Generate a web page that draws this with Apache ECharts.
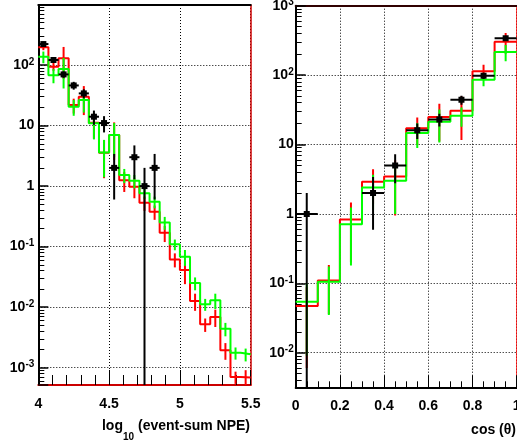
<!DOCTYPE html>
<html><head><meta charset="utf-8">
<script src="https://cdn.jsdelivr.net/npm/echarts@6/dist/echarts.min.js"></script>
<style>html,body{margin:0;padding:0;background:#fff}#c{width:517px;height:441px}</style>
</head><body><div id="c"></div>
<script>
// ---------- Left panel: log10(event-sum NPE), 21 bins from 4 to 5.5 ----------
const npeRange = [4, 5.5];
const npeBinCount = 21;
const npeRed      = [196, 94, 129, 21.8, 29.9, 11.1, 3.55, 7.0, 1.25, 0.98, 0.53, 0.377, 0.169, 0.0614, 0.041, 0.0127, 0.0052, 0.0069, 0.00195, 0.00070, 0.00069];
const npeRedErr   = [20, 14, 70, 6, 15, 5, 2.2, 4.3, 0.45, 0.35, 0.14, 0.1, 0.05, 0.016, 0.017, 0.004, 0.0013, 0.0022, 0.0006, 0.00016, 0.00022];
const npeGreen    = [137, 68, 86, 20.5, 26.4, 10.9, 3.6, 7.0, 1.52, 1.22, 0.76, 0.55, 0.25, 0.109, 0.068, 0.025, 0.0112, 0.013, 0.0044, 0.00176, 0.00167];
const npeGreenErr = [30, 18, 45, 6, 10, 5, 2.2, 4, 0.4, 0.3, 0.15, 0.12, 0.06, 0.022, 0.02, 0.006, 0.0025, 0.0037, 0.0011, 0.0004, 0.0004];
const npeData     = [222, 121, 70, 46, 34, 14, 11, 2, null, 3, 1, 2, null, null, null, null, null, null, null, null, null];
const npeDataErr  = [15, 11, 8.4, 6.8, 5.8, 3.7, 3.3, 1.4, null, 1.7, 1, 1.4, null, null, null, null, null, null, null, null, null];
const npeYRange = [0.000518, 981];
const npeXTicks = {interval: 0.5, minor: 5};

// ---------- Right panel: cos(theta), 10 bins from 0 to 1 ----------
const cosRange = [0, 1];
const cosBinCount = 10;
const cosRed      = [0.047, 0.11, 0.83, 2.9, 3.45, 17.2, 24.8, 30.6, 114, 303];
const cosRedErr   = [0.041, 0.074, 0.63, 1.5, 2.5, 7.3, 13.8, 19, 27, 100];
const cosGreen    = [0.054, 0.105, 0.71, 2.4, 3.0, 14.6, 21.3, 26, 86, 215];
const cosGreenErr = [0.045, 0.07, 0.53, 1.25, 2.0, 5.7, 10.6, 8, 17, 57];
const cosData     = [1, null, null, 2, 5, 16, 23, 44, 98, 339];
const cosDataErr  = [1, null, null, 1.41, 2.24, 4, 4.8, 6.6, 9.9, 18.4];
const cosYRange = [0.00317, 1000];
const cosXTicks = {interval: 0.2, minor: 4};

const minorMantissas = [2, 3, 4, 5, 6, 7, 8, 9];
const decades = [-4, -3, -2, -1, 0, 1, 2, 3];

const RED = '#ff0000', GREEN = '#00ff00', BLACK = '#000000';
const FONT = 'Liberation Sans';

function edges(range, n) {
  const w = (range[1] - range[0]) / n, e = [];
  for (let i = 0; i <= n; i++) e.push(range[0] + i * w);
  return e;
}
function stepData(range, n, vals) {
  const e = edges(range, n), d = [];
  vals.forEach((v, i) => d.push([e[i], v]));
  d.push([e[n], vals[n - 1]]);
  return d;
}
function barData(range, n, vals, errs, ymin) {
  const e = edges(range, n), d = [];
  vals.forEach((v, i) => {
    if (v == null) return;
    const c = (e[i] + e[i + 1]) / 2;
    d.push([c, Math.max(v - errs[i], ymin), v + errs[i], v, (e[i + 1] - e[i]) / 2]);
  });
  return d;
}
function minorValues(yr) {
  const d = [];
  decades.forEach(k => minorMantissas.forEach(m => {
    const v = m * Math.pow(10, k);
    if (v > yr[0] && v < yr[1]) d.push(v);
  }));
  return d;
}

function stepSeries(xi, yi, data, color, z) {
  return {type: 'line', xAxisIndex: xi, yAxisIndex: yi, step: 'end', data, showSymbol: false,
    symbol: 'none', lineStyle: {color, width: 2}, z, silent: true, clip: true};
}
function errSeries(xi, yi, data, color, z) {
  return {type: 'custom', xAxisIndex: xi, yAxisIndex: yi, z, silent: true, clip: true,
    data, encode: {x: 0, y: [1, 2]},
    renderItem(params, api) {
      const x = api.value(0);
      const a = api.coord([x, api.value(1)]);
      const b = api.coord([x, api.value(2)]);
      return {type: 'line', shape: {x1: a[0], y1: a[1], x2: b[0], y2: b[1]},
        style: {stroke: color, lineWidth: 2}};
    }};
}
function dataSeries(xi, yi, data, z) {
  return {type: 'custom', xAxisIndex: xi, yAxisIndex: yi, z, silent: true, clip: true,
    data, encode: {x: 0, y: [1, 2]},
    renderItem(params, api) {
      const x = api.value(0), v = api.value(3), hw = api.value(4);
      const lo = api.coord([x, api.value(1)]);
      const hi = api.coord([x, api.value(2)]);
      const l = api.coord([x - hw, v]), r = api.coord([x + hw, v]);
      return {type: 'group', children: [
        {type: 'line', shape: {x1: lo[0], y1: lo[1], x2: hi[0], y2: hi[1]}, style: {stroke: BLACK, lineWidth: 2}},
        {type: 'line', shape: {x1: l[0], y1: l[1], x2: r[0], y2: r[1]}, style: {stroke: BLACK, lineWidth: 2}},
        {type: 'rect', shape: {x: l[0] + (r[0] - l[0]) / 2 - 3, y: l[1] - 3, width: 6, height: 6}, style: {fill: BLACK}}
      ]};
    }};
}

function powLabel(v) {
  const l = Math.log10(v), e = Math.round(l);
  if (Math.abs(l - e) > 1e-6) return '';
  if (e === 0) return '{b|1}';
  if (e === 1) return '{b|10}';
  return '{b|10}{s|' + e + '}';
}
const richPow = {
  b: {fontSize: 14, fontWeight: 'bold', fontFamily: FONT, color: BLACK, lineHeight: 16},
  s: {fontSize: 10, fontWeight: 'bold', fontFamily: FONT, color: BLACK, lineHeight: 8, verticalAlign: 'top'}
};
const dotted = {color: BLACK, width: 1, type: [1, 2]};

function xAxisMain(grid, range, t, lineColor, tickLen, minorLen) {
  return {type: 'value', gridIndex: grid, min: range[0], max: range[1], interval: t.interval,
    axisLine: {show: true, onZero: false, lineStyle: {color: lineColor, width: 2}},
    axisTick: {show: true, inside: true, length: tickLen, lineStyle: {color: BLACK, width: 1}},
    minorTick: {show: true, splitNumber: t.minor, length: minorLen, lineStyle: {color: BLACK, width: 1}},
    axisLabel: {show: true, margin: 12, fontSize: 14, fontWeight: 'bold', fontFamily: FONT, color: BLACK,
      showMinLabel: true, showMaxLabel: true},
    splitLine: {show: true, lineStyle: dotted}};
}
function yAxisMain(grid, yr, margin) {
  return {type: 'log', logBase: 10, gridIndex: grid, min: yr[0], max: yr[1],
    axisLine: {show: true, onZero: false, lineStyle: {color: BLACK, width: 2}},
    axisTick: {show: true, inside: true, length: 10, lineStyle: {color: BLACK, width: 1.5}},
    minorTick: {show: false},
    axisLabel: {show: true, margin, formatter: powLabel, rich: richPow, showMinLabel: true, showMaxLabel: true},
    splitLine: {show: true, lineStyle: dotted}};
}
function yAxisMinor(grid, yr) {
  return {type: 'log', logBase: 10, gridIndex: grid, min: yr[0], max: yr[1], position: 'left',
    axisLine: {show: false, onZero: false},
    axisTick: {show: true, inside: true, length: 6, customValues: minorValues(yr), lineStyle: {color: BLACK, width: 1}},
    minorTick: {show: false}, axisLabel: {show: false}, splitLine: {show: false}};
}
function frameX(grid, range, color) {
  return {type: 'value', gridIndex: grid, position: 'top', min: range[0], max: range[1],
    axisLine: {show: true, onZero: false, lineStyle: {color, width: 2}},
    axisTick: {show: false}, axisLabel: {show: false}, splitLine: {show: false}};
}
function frameY(grid, color) {
  return {type: 'value', gridIndex: grid, position: 'right', min: 0, max: 1,
    axisLine: {show: true, onZero: false, lineStyle: {color, width: 1.5}},
    axisTick: {show: false}, axisLabel: {show: false}, splitLine: {show: false}};
}

// measure title pieces so the subscript can sit below the baseline
const mctx = document.createElement('canvas').getContext('2d');
function tw(txt, size) { mctx.font = 'bold ' + size + 'px "' + FONT + '"'; return mctx.measureText(txt).width; }
const tA = 'log', tSub = '10', tB = ' (event-sum NPE)';
const titleRight = 250, titleY = 426;
const wB = tw(tB, 14), wSub = tw(tSub, 10), wA = tw(tA, 14);
const xB = titleRight - wB, xSub = xB - wSub, xA = xSub - wA;
const tStyle = {fontSize: 14, fontWeight: 'bold', fontFamily: FONT, fill: BLACK, verticalAlign: 'middle', align: 'left'};

const chart = echarts.init(document.getElementById('c'), null, {renderer: 'canvas'});
chart.setOption({
  animation: false,
  backgroundColor: '#ffffff',
  grid: [
    {left: 38.3, top: 5, width: 212.4, height: 380, containLabel: false, outerBoundsMode: 'none'},
    {left: 295.7, top: 5.7, width: 221, height: 381.6, containLabel: false, outerBoundsMode: 'none'}
  ],
  xAxis: [
    xAxisMain(0, npeRange, npeXTicks, '#cc0000', 15, 10),
    xAxisMain(1, cosRange, cosXTicks, BLACK, 12, 6),
    frameX(0, npeRange, BLACK),
    frameX(1, cosRange, '#300000')
  ],
  yAxis: [
    yAxisMain(0, npeYRange, 4),
    yAxisMain(1, cosYRange, 2),
    frameY(0, '#cc0000'),
    frameY(1, RED),
    yAxisMinor(0, npeYRange),
    yAxisMinor(1, cosYRange)
  ],
  series: [
    stepSeries(0, 0, stepData(npeRange, npeBinCount, npeRed), RED, 2),
    errSeries(0, 0, barData(npeRange, npeBinCount, npeRed, npeRedErr, npeYRange[0]), RED, 2),
    stepSeries(0, 0, stepData(npeRange, npeBinCount, npeGreen), GREEN, 3),
    errSeries(0, 0, barData(npeRange, npeBinCount, npeGreen, npeGreenErr, npeYRange[0]), GREEN, 3),
    dataSeries(0, 0, barData(npeRange, npeBinCount, npeData, npeDataErr, npeYRange[0]), 5),

    stepSeries(1, 1, stepData(cosRange, cosBinCount, cosRed), RED, 2),
    errSeries(1, 1, barData(cosRange, cosBinCount, cosRed, cosRedErr, cosYRange[0]), RED, 2),
    stepSeries(1, 1, stepData(cosRange, cosBinCount, cosGreen), GREEN, 3),
    errSeries(1, 1, barData(cosRange, cosBinCount, cosGreen, cosGreenErr, cosYRange[0]), GREEN, 3),
    dataSeries(1, 1, barData(cosRange, cosBinCount, cosData, cosDataErr, cosYRange[0]), 5)
  ],
  graphic: [
    {type: 'text', x: xA, y: titleY, silent: true, style: Object.assign({text: tA}, tStyle)},
    {type: 'text', x: xSub, y: titleY + 11, silent: true, style: Object.assign({}, tStyle, {text: tSub, fontSize: 10})},
    {type: 'text', x: xB, y: titleY, silent: true, style: Object.assign({text: tB}, tStyle)},
    {type: 'text', x: 516, y: 430, silent: true, style: Object.assign({}, tStyle, {text: 'cos (θ)', align: 'right'})}
  ]
});
</script></body></html>
